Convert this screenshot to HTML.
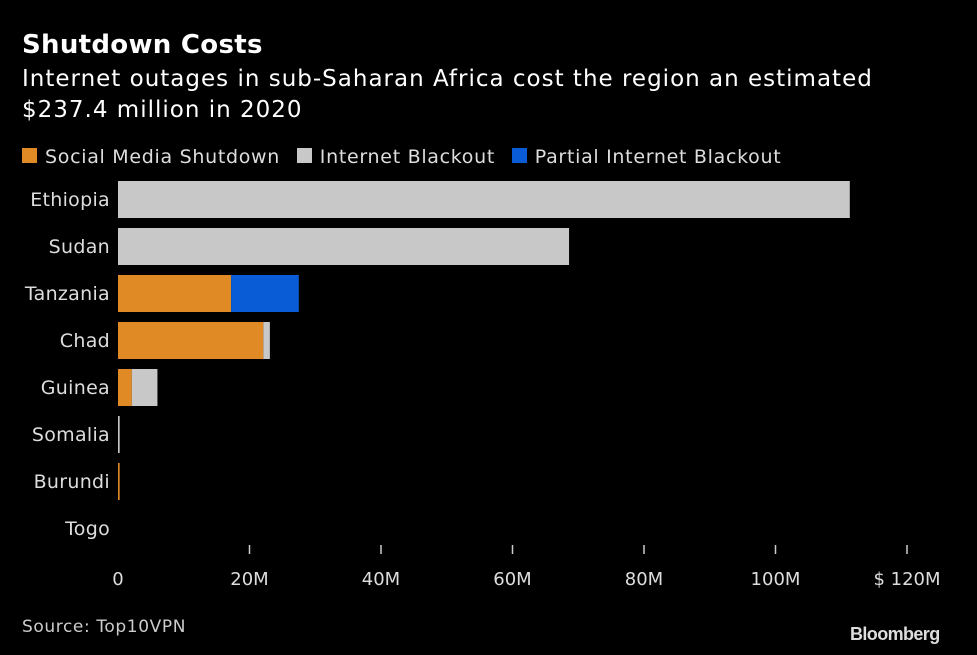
<!DOCTYPE html>
<html><head><meta charset="utf-8"><style>
body{margin:0;background:#000;width:977px;height:655px;overflow:hidden;font-family:"DejaVu Sans","Liberation Sans",sans-serif;color:#fff}
.t{position:absolute;white-space:nowrap}
</style></head><body>
<div class="t" style="left:22px;top:30px;font-size:26px;font-weight:bold;letter-spacing:0.3px">Shutdown Costs</div>
<div class="t" style="left:22px;top:64px;font-size:23px;line-height:31px;letter-spacing:1.0px">Internet outages in sub-Saharan Africa cost the region an estimated<br>$237.4 million in 2020</div>
<div class="t" style="left:22px;top:146px;font-size:19px;color:#ddd;letter-spacing:0.7px">
<span><span style="display:inline-block;width:15px;height:15px;background:#e08a25;margin-right:8px"></span>Social Media Shutdown</span>
<span style="margin-left:10px"><span style="display:inline-block;width:15px;height:15px;background:#c8c8c8;margin-right:8px"></span>Internet Blackout</span>
<span style="margin-left:10px"><span style="display:inline-block;width:15px;height:15px;background:#0a5cd6;margin-right:8px"></span>Partial Internet Blackout</span>
</div>
<svg id="chart" width="977" height="655" style="position:absolute;left:0;top:0"></svg>
<div class="t" style="left:22px;top:617px;font-size:17px;color:#ccc;letter-spacing:0.6px">Source: Top10VPN</div>
<div class="t" style="left:850px;top:624px;font-size:18px;font-weight:bold;color:#ddd;letter-spacing:-0.6px;font-family:'Liberation Sans',sans-serif">Bloomberg</div>
<script>
const categories=["Ethiopia","Sudan","Tanzania","Chad","Guinea","Somalia","Burundi","Togo"];
const social=[0,0,17.2,22.1,2.1,0,0.25,0];
const internet=[111.3,68.6,0,1.0,3.9,0.25,0,0];
const partial=[0,0,10.3,0,0,0,0,0];
const ticks=[0,20,40,60,80,100,120];
const tickLabels=["0","20M","40M","60M","80M","100M","$ 120M"];
const svg=document.getElementById('chart');
const NS='http://www.w3.org/2000/svg';
const FF='DejaVu Sans, Liberation Sans, sans-serif';
const x=v=>118+v*(907-118)/120;
const yTop=i=>181+i*47;
function mk(tag,attrs){const e=document.createElementNS(NS,tag);for(const k in attrs)e.setAttribute(k,attrs[k]);svg.appendChild(e);return e;}
categories.forEach((c,i)=>{
  const t=mk('text',{x:110,y:yTop(i)+25,'text-anchor':'end','font-size':19,fill:'#ddd','font-family':FF,'letter-spacing':0.3});
  t.textContent=c;
  
  
  let acc=0;
  [[social,'#e08a25','bar-social'],[internet,'#c8c8c8','bar-internet'],[partial,'#0a5cd6','bar-partial']].forEach(([arr,col,nm])=>{
    const v=arr[i];
    if(v>0){
      const r=mk('rect',{x:x(acc),y:yTop(i),width:Math.max(x(acc+v)-x(acc),1.5),height:37,fill:col});
      
      
    }
    acc+=v;
  });
});
ticks.forEach((v,i)=>{
  if(i>0){const l=mk('line',{x1:x(v),x2:x(v),y1:545,y2:554,stroke:'#ccc','stroke-width':1.5});
  
  }
  const t=mk('text',{x:x(v),y:585,'text-anchor':'middle','font-size':18,fill:'#ddd','font-family':FF});
  t.textContent=tickLabels[i];
  
  
});
</script>
</body></html>
